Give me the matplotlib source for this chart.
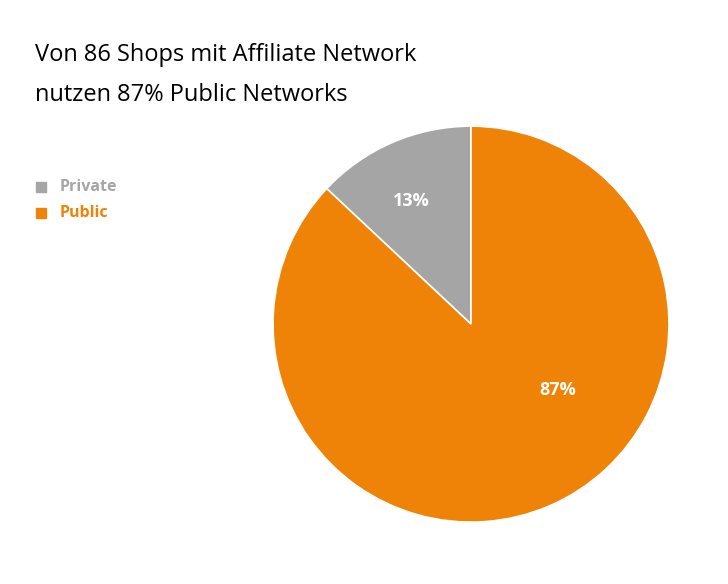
import matplotlib
matplotlib.use("Agg")
import matplotlib.pyplot as plt
import numpy as np

labels = ["Private", "Public"]
shares = [13, 87]
colors = ["#A5A5A5", "#EE8307"]
# label positions (polar: radius fraction, angle in degrees)
label_pos = [(0.69, 116), (0.55, -37)]

plt.rcParams['font.family'] = ['Open Sans', 'DejaVu Sans']

fig = plt.figure(figsize=(7.28, 5.84), dpi=100)
ax = fig.add_axes([0.375, 0.106, 0.544, 0.678])
wedges, texts = ax.pie(shares, colors=colors, startangle=90, counterclock=True,
                       wedgeprops=dict(edgecolor="white", linewidth=1.2))
ax.set_xlim(-1.0, 1.0)
ax.set_ylim(-1.0, 1.0)
ax.set_aspect("equal")

for s, (r, a) in zip(shares, label_pos):
    ang = np.deg2rad(a)
    ax.text(r * np.cos(ang), r * np.sin(ang), f"{s}%", ha="center", va="center",
            color="white", fontsize=13, fontweight="bold")

fig.text(0.048, 0.906, "Von 86 Shops mit Affiliate Network", fontsize=17, va="center")
fig.text(0.048, 0.838, "nutzen 87% Public Networks", fontsize=17, va="center")

# legend
for i, (lab, c) in enumerate(zip(labels, colors)):
    y = 1 - (187 + 26 * i) / 584
    fig.patches.append(plt.Rectangle((36 / 728, y - 0.009), 0.0135, 0.017,
                                     transform=fig.transFigure, color=c))
    fig.text(60 / 728, y, lab, color=c, fontsize=11.5, fontweight="bold", va="center")

fig.savefig("out.png", dpi=100)
